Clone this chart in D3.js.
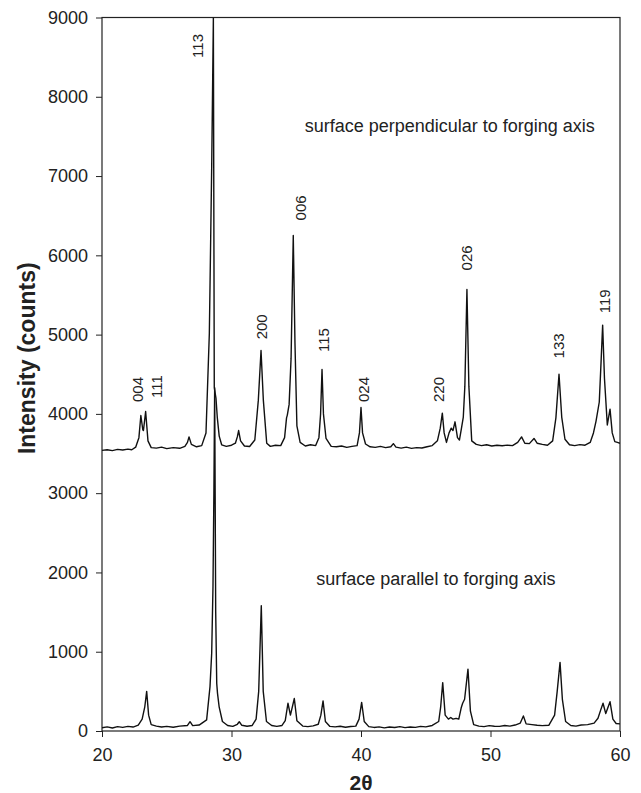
<!DOCTYPE html>
<html>
<head>
<meta charset="utf-8">
<script src="https://cdn.jsdelivr.net/npm/d3@7"></script>
<style>
  body { margin: 0; background: #fff; }
  text { font-family: "Liberation Sans", Arial, sans-serif; fill: #222; }
</style>
</head>
<body>
<div id="chart-area"></div>
<script>
// surface perpendicular to forging axis (2theta, counts)
const perpX = [20.0, 20.4, 20.8, 21.2, 21.6, 22.0, 22.3, 22.6, 22.85, 23.0, 23.15, 23.2, 23.37, 23.55, 23.8, 24.2, 24.6, 25.0,
  25.5, 26.0, 26.4, 26.6, 26.72, 26.9, 27.3, 27.7, 28.03, 28.29, 28.47, 28.6, 28.67, 28.8, 28.9, 29.05, 29.24, 29.6, 30.0,
  30.3, 30.45, 30.55, 30.7, 31.0, 31.4, 31.8, 32.07, 32.28, 32.46, 32.72, 33.0, 33.4, 33.8, 34.1, 34.25, 34.31, 34.45, 34.6,
  34.77, 34.9, 35.05, 35.3, 35.7, 36.1, 36.5, 36.75, 36.88, 36.99, 37.1, 37.3, 37.7, 38.1, 38.5, 38.9, 39.3, 39.7, 39.88,
  40.0, 40.12, 40.35, 40.7, 41.1, 41.5, 41.9, 42.3, 42.5, 42.7, 43.1, 43.5, 43.9, 44.3, 44.7, 45.1, 45.5, 45.9, 46.12,
  46.28, 46.42, 46.6, 46.8, 46.97, 47.1, 47.26, 47.45, 47.6, 47.75, 47.9, 48.02, 48.18, 48.33, 48.55, 48.9, 49.3, 49.7,
  50.1, 50.5, 50.9, 51.3, 51.7, 52.1, 52.4, 52.65, 53.0, 53.36, 53.6, 54.0, 54.4, 54.8, 55.05, 55.29, 55.5, 55.75, 56.1,
  56.5, 56.9, 57.3, 57.7, 57.95, 58.15, 58.4, 58.55, 58.66, 58.8, 59.02, 59.23, 59.4, 59.6, 59.8, 60.0];
const perpY = [3540, 3548, 3536, 3552, 3545, 3556, 3548, 3580, 3700, 3980, 3800, 3790, 4030, 3660, 3575, 3568, 3580, 3562,
  3575, 3566, 3590, 3640, 3710, 3615, 3585, 3600, 3760, 5020, 7110, 9000, 4330, 4200, 3960, 3720, 3610, 3590, 3605,
  3630, 3710, 3790, 3660, 3595, 3588, 3670, 4170, 4800, 4170, 3630, 3590, 3605, 3600, 3700, 3950, 3985, 4120, 4700,
  6250, 4900, 3850, 3640, 3595, 3610, 3600, 3700, 4000, 4560, 4000, 3690, 3590, 3585, 3595, 3578, 3590, 3600, 3760,
  4080, 3760, 3620, 3585, 3578, 3590, 3575, 3585, 3625, 3580, 3568, 3580, 3565, 3575, 3570, 3585, 3600, 3660, 3820,
  4010, 3760, 3640, 3760, 3820, 3790, 3900, 3700, 3670, 3810, 3960, 4350, 5570, 4350, 3660, 3615, 3600, 3610,
  3595, 3605, 3598, 3606, 3600, 3640, 3710, 3630, 3625, 3690, 3630, 3615, 3605, 3660, 3950, 4500, 3960, 3680, 3610,
  3600, 3612, 3605, 3640, 3760, 3910, 4150, 4700, 5120, 4450, 3860, 4060, 3760, 3650, 3640, 3630];

// surface parallel to forging axis (2theta, counts)
const paraX = [20.0, 20.4, 20.8, 21.2, 21.6, 22.0, 22.4, 22.8, 23.1, 23.3, 23.45, 23.6, 23.8, 24.2, 24.6, 25.0, 25.5, 26.0,
  26.6, 26.8, 27.0, 27.5, 28.08, 28.34, 28.47, 28.57, 28.64, 28.7, 28.78, 28.86, 28.92, 29.05, 29.3, 29.7, 30.1, 30.45,
  30.6, 30.8, 31.2, 31.6, 31.9, 32.1, 32.3, 32.45, 32.7, 33.1, 33.5, 33.9, 34.15, 34.36, 34.55, 34.85, 35.05, 35.5, 35.9,
  36.3, 36.7, 36.9, 37.07, 37.25, 37.6, 38.0, 38.4, 38.8, 39.2, 39.6, 39.85, 40.05, 40.25, 40.6, 41.0, 41.4, 41.8, 42.2,
  42.6, 43.0, 43.4, 43.8, 44.2, 44.6, 45.0, 45.5, 46.0, 46.15, 46.31, 46.5, 46.75, 46.93, 47.1, 47.34, 47.55, 47.75,
  47.85, 48.0, 48.26, 48.45, 48.7, 49.1, 49.5, 49.9, 50.3, 50.7, 51.1, 51.5, 51.9, 52.3, 52.54, 52.75, 53.2, 53.6, 54.0,
  54.5, 54.95, 55.15, 55.37, 55.55, 55.8, 56.2, 56.6, 57.0, 57.5, 58.0, 58.3, 58.5, 58.69, 58.9, 59.23, 59.45, 59.7, 60.0];
const paraY = [40, 52, 38, 55, 45, 58, 50, 75, 150, 300, 500, 200, 80, 62, 50, 58, 48, 62,
  70, 117, 68, 75, 140, 560, 980, 1820, 3000, 4330, 1500, 600, 475, 300, 120, 70, 58, 85,
  117, 72, 60, 70, 150, 500, 1580, 500, 120, 70, 58, 70, 130, 350, 200, 410, 130, 62, 55,
  65, 85, 200, 380, 120, 58, 52, 60, 48, 56, 62, 150, 360, 120, 55, 45, 52, 40, 50,
  44, 55, 42, 50, 46, 58, 52, 70, 120, 300, 610, 200, 150, 170, 150, 160, 150, 300,
  350, 400, 780, 250, 80, 62, 55, 68, 60, 58, 70, 62, 75, 100, 190, 90, 80, 72, 68,
  72, 200, 500, 866, 400, 120, 70, 62, 75, 80, 100, 160, 260, 350, 220, 370, 150, 95, 90];

// peak labels: text, 2theta, counts at which label starts
const peakNames = ["004", "111", "113", "200", "006", "115", "024", "220", "026", "133", "119"];
const peakPos   = [22.73, 24.22, 27.39, 32.33, 35.34, 37.14, 40.23, 45.97, 48.16, 55.24, 58.79];
const peakBase  = [4150, 4200, 8490, 4940, 6440, 4780, 4150, 4150, 5810, 4700, 5270];

const yTicks = [0, 1000, 2000, 3000, 4000, 5000, 6000, 7000, 8000, 9000];
const xTicks = [20, 30, 40, 50, 60];

const margin = {top: 17.5, right: 21, bottom: 62, left: 102},
    width = 641 - margin.left - margin.right,
    height = 793 - margin.top - margin.bottom;

const svg = d3.select("#chart-area")
  .append("svg")
    .attr("width", 641)
    .attr("height", 793)
  .append("g")
    .attr("transform", `translate(${margin.left}, ${margin.top})`);

const x = d3.scaleLinear().domain([20, 60]).range([0, width]);
const y = d3.scaleLinear().domain([0, 9000]).range([height, 0]);

svg.append("clipPath").attr("id", "clip")
  .append("rect").attr("width", width).attr("height", height);

// axes
const yAxis = svg.append("g")
  .call(d3.axisLeft(y).tickValues(yTicks).tickSize(6).tickPadding(8).tickFormat(d3.format("d")));
const xAxis = svg.append("g")
  .attr("transform", `translate(0, ${height})`)
  .call(d3.axisBottom(x).tickValues(xTicks).tickSize(6).tickPadding(11));
[xAxis, yAxis].forEach(a => {
  a.select(".domain").remove();
  a.selectAll("line").attr("stroke", "#222");
  a.selectAll("text").style("font-size", "18px").attr("fill", "#222");
});

// frame
svg.append("rect")
  .attr("width", width).attr("height", height)
  .attr("fill", "none").attr("stroke", "#222").attr("stroke-width", 1.2);

const line = d3.line().x(d => x(d[0])).y(d => y(d[1]));

[[perpX, perpY], [paraX, paraY]].forEach(([xs, ys]) => {
  svg.append("path")
    .datum(xs.map((v, i) => [v, ys[i]]))
    .attr("clip-path", "url(#clip)")
    .attr("fill", "none")
    .attr("stroke", "#111")
    .attr("stroke-width", 1.4)
    .attr("stroke-linejoin", "round")
    .attr("d", line);
});

// peak labels
svg.selectAll(".peak")
  .data(peakNames)
  .enter()
  .append("text")
    .attr("transform", (d, i) => `translate(${x(peakPos[i])}, ${y(peakBase[i])}) rotate(-90)`)
    .attr("dy", "0.36em")
    .style("font-size", "15px")
    .text(d => d);

// annotations
svg.append("text")
  .attr("x", x(35.65)).attr("y", y(7560))
  .style("font-size", "18px")
  .text("surface perpendicular to forging axis");
svg.append("text")
  .attr("x", x(36.55)).attr("y", y(1840))
  .style("font-size", "18px")
  .text("surface parallel to forging axis");

// axis titles
svg.append("text")
  .attr("transform", `translate(${35 - margin.left}, ${height / 2 - 16}) rotate(-90)`)
  .attr("text-anchor", "middle")
  .style("font-size", "23px")
  .style("font-weight", "bold")
  .text("Intensity (counts)");
svg.append("text")
  .attr("x", width / 2).attr("y", height + 59)
  .attr("text-anchor", "middle")
  .style("font-size", "21px")
  .style("font-weight", "bold")
  .text("2θ");
</script>
</body>
</html>
